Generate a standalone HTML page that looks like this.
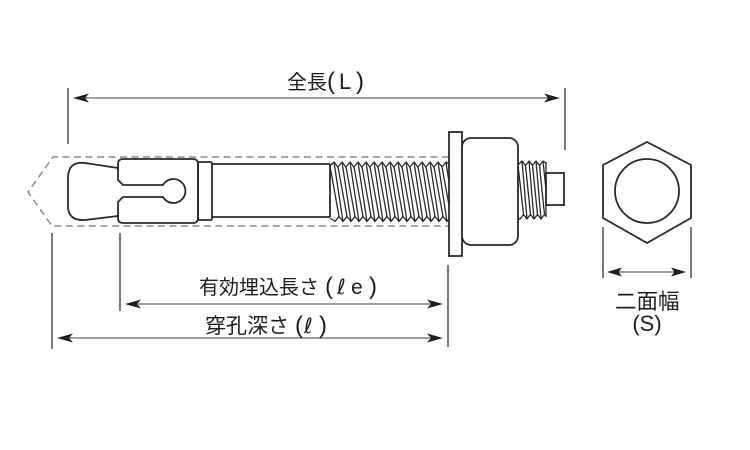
<!DOCTYPE html>
<html>
<head>
<meta charset="utf-8">
<style>
html,body{margin:0;padding:0;background:#fff;}
svg{display:block;}
text{fill:#1e1e1e;}
</style>
</head>
<body>
<svg width="750" height="450" viewBox="0 0 750 450" xmlns="http://www.w3.org/2000/svg">
<rect width="750" height="450" fill="#fff"/>

<!-- dashed hole outline -->
<g fill="none" stroke="#8a8a8a" stroke-width="1.5" stroke-dasharray="7 4.5">
  <path d="M449,157 L53,157 L28,192 L52,226 L449,226"/>
</g>

<!-- extension lines -->
<g stroke="#333" stroke-width="1.3" fill="none">
  <line x1="68" y1="88" x2="68" y2="144"/>
  <line x1="565" y1="88" x2="565" y2="150"/>
  <line x1="52" y1="233" x2="52" y2="349"/>
  <line x1="120" y1="233" x2="120" y2="311"/>
  <line x1="448" y1="265" x2="448" y2="347"/>
  <line x1="603" y1="227" x2="603" y2="278"/>
  <line x1="691" y1="227" x2="691" y2="278"/>
</g>

<!-- dimension lines -->
<g stroke="#666" stroke-width="1.3" fill="none">
  <line x1="80" y1="98" x2="553" y2="98"/>
  <line x1="132" y1="304" x2="436" y2="304"/>
  <line x1="64" y1="338" x2="436" y2="338"/>
  <line x1="614" y1="272" x2="679" y2="272"/>
</g>
<!-- arrowheads -->
<g fill="#1e1e1e" stroke="none">
  <path d="M73,98 L89,93.5 L85,98 L89,102.5 Z"/>
  <path d="M560,98 L544,93.5 L548,98 L544,102.5 Z"/>
  <path d="M125,304 L141,299.5 L137,304 L141,308.5 Z"/>
  <path d="M443,304 L427,299.5 L431,304 L427,308.5 Z"/>
  <path d="M57,338 L73,333.5 L69,338 L73,342.5 Z"/>
  <path d="M443,338 L427,333.5 L431,338 L427,342.5 Z"/>
  <path d="M607,272 L622,267.5 L618.5,272 L622,276.5 Z"/>
  <path d="M686,272 L671,267.5 L674.5,272 L671,276.5 Z"/>
</g>

<!-- anchor body -->
<g fill="none" stroke="#2a2a2a" stroke-width="1.8" stroke-linejoin="round">
  <path d="M118,168 L85,163 Q68,161 68,178 L68,206 Q68,221 85,220 L118,216"/>
  <path d="M118,180 L118,164 Q118,159 123,159 L193,159 Q198,159 198,164 L198,218 Q198,223 193,223 L123,223 Q118,223 118,218 L118,202 L123,197 L163,197 A12,12 0 1 0 163,185 L123,185 Z"/>
  <rect x="198" y="162" width="14" height="58" rx="1.5"/>
  <line x1="212" y1="164" x2="330" y2="164"/>
  <line x1="212" y1="217" x2="330" y2="217"/>
  <line x1="330" y1="164" x2="330" y2="217"/>
</g>

<!-- thread 1 -->
<g fill="none" stroke="#2a2a2a" stroke-width="1.3" stroke-linejoin="round">
  <path d="M330,166 L334,162 L338,167 L342,162 L346,167 L350,162 L354,167 L358,162 L362,167 L366,162 L370,167 L374,162 L378,167 L382,162 L386,167 L390,162 L394,167 L398,162 L402,167 L406,162 L410,167 L414,162 L418,167 L422,162 L426,167 L430,162 L434,167 L438,162 L442,167 L446,162 L449,164"/>
  <path d="M330,218 L335,221.5 L339,216.5 L343,221.5 L347,216.5 L351,221.5 L355,216.5 L359,221.5 L363,216.5 L367,221.5 L371,216.5 L375,221.5 L379,216.5 L383,221.5 L387,216.5 L391,221.5 L395,216.5 L399,221.5 L403,216.5 L407,221.5 L411,216.5 L415,221.5 L419,216.5 L423,221.5 L427,216.5 L431,221.5 L435,216.5 L439,221.5 L443,216.5 L447,221.5 L449,219"/>
  <path d="M330,166 L339,216.5
           M334,162 L343,221.5 M338,167 L347,216.5
           M342,162 L351,221.5 M346,167 L355,216.5
           M350,162 L359,221.5 M354,167 L363,216.5
           M358,162 L367,221.5 M362,167 L371,216.5
           M366,162 L375,221.5 M370,167 L379,216.5
           M374,162 L383,221.5 M378,167 L387,216.5
           M382,162 L391,221.5 M386,167 L395,216.5
           M390,162 L399,221.5 M394,167 L403,216.5
           M398,162 L407,221.5 M402,167 L411,216.5
           M406,162 L415,221.5 M410,167 L419,216.5
           M414,162 L423,221.5 M418,167 L427,216.5
           M422,162 L431,221.5 M426,167 L435,216.5
           M430,162 L439,221.5 M434,167 L443,216.5
           M438,162 L447,221.5 M442,167 L449,205.5
           M446,162 L449,182"/>
</g>

<!-- washer and nut -->
<g fill="#fff" stroke="#2a2a2a" stroke-width="1.8">
  <rect x="449" y="132" width="13" height="124"/>
  <rect x="462" y="138" width="56" height="107" rx="9"/>
</g>

<!-- thread 2 -->
<g fill="none" stroke="#2a2a2a" stroke-width="1.3" stroke-linejoin="round">
  <path d="M518,165 L522,161 L525.5,165.5 L529,161 L532.5,165.5 L536,161 L539.5,165.5 L543,161 L546,163"/>
  <path d="M518,218 L520,219 L523.5,214.5 L527,219 L530.5,214.5 L534,219 L537.5,214.5 L541,219 L544.5,214.5 L546,216"/>
  <path d="M518,165 L523.5,214.5
           M522,161 L527,219 M525.5,165.5 L530.5,214.5
           M529,161 L534,219 M532.5,165.5 L537.5,214.5
           M536,161 L541,219 M539.5,165.5 L544.5,214.5
           M543,161 L546,190"/>
  <line x1="546" y1="162" x2="546" y2="217"/>
</g>
<rect x="546" y="173" width="18" height="32" fill="#fff" stroke="#2a2a2a" stroke-width="1.8"/>

<!-- hex view -->
<g fill="none" stroke="#2a2a2a" stroke-width="1.8">
  <polygon points="647,142 691,165 691,218 647,243 603,218 603,165"/>
  <circle cx="647" cy="191" r="32"/>
</g>

<!-- labels -->
<g font-family="'Liberation Sans','Noto Sans CJK JP',sans-serif">
  <text y="89" font-size="20">
    <tspan x="287">全長</tspan><tspan x="327" font-size="24">(</tspan><tspan x="339" font-size="22">L</tspan><tspan x="356" font-size="24">)</tspan>
  </text>
  <text y="294" font-size="20">
    <tspan x="199">有効埋込長さ</tspan><tspan x="325" font-size="24">(</tspan><tspan x="337" font-family="'DejaVu Sans',sans-serif" font-size="21">ℓ</tspan><tspan x="351" font-size="21">e</tspan><tspan x="369" font-size="24">)</tspan>
  </text>
  <text y="333" font-size="21">
    <tspan x="205">穿孔深さ</tspan><tspan x="295" font-size="24">(</tspan><tspan x="304" font-family="'DejaVu Sans',sans-serif" font-size="21">ℓ</tspan><tspan x="319" font-size="24">)</tspan>
  </text>
  <text x="615" y="309" font-size="21.5">二面幅</text>
  <text x="647" y="331" font-size="22" text-anchor="middle">(S)</text>
</g>
</svg>
</body>
</html>
